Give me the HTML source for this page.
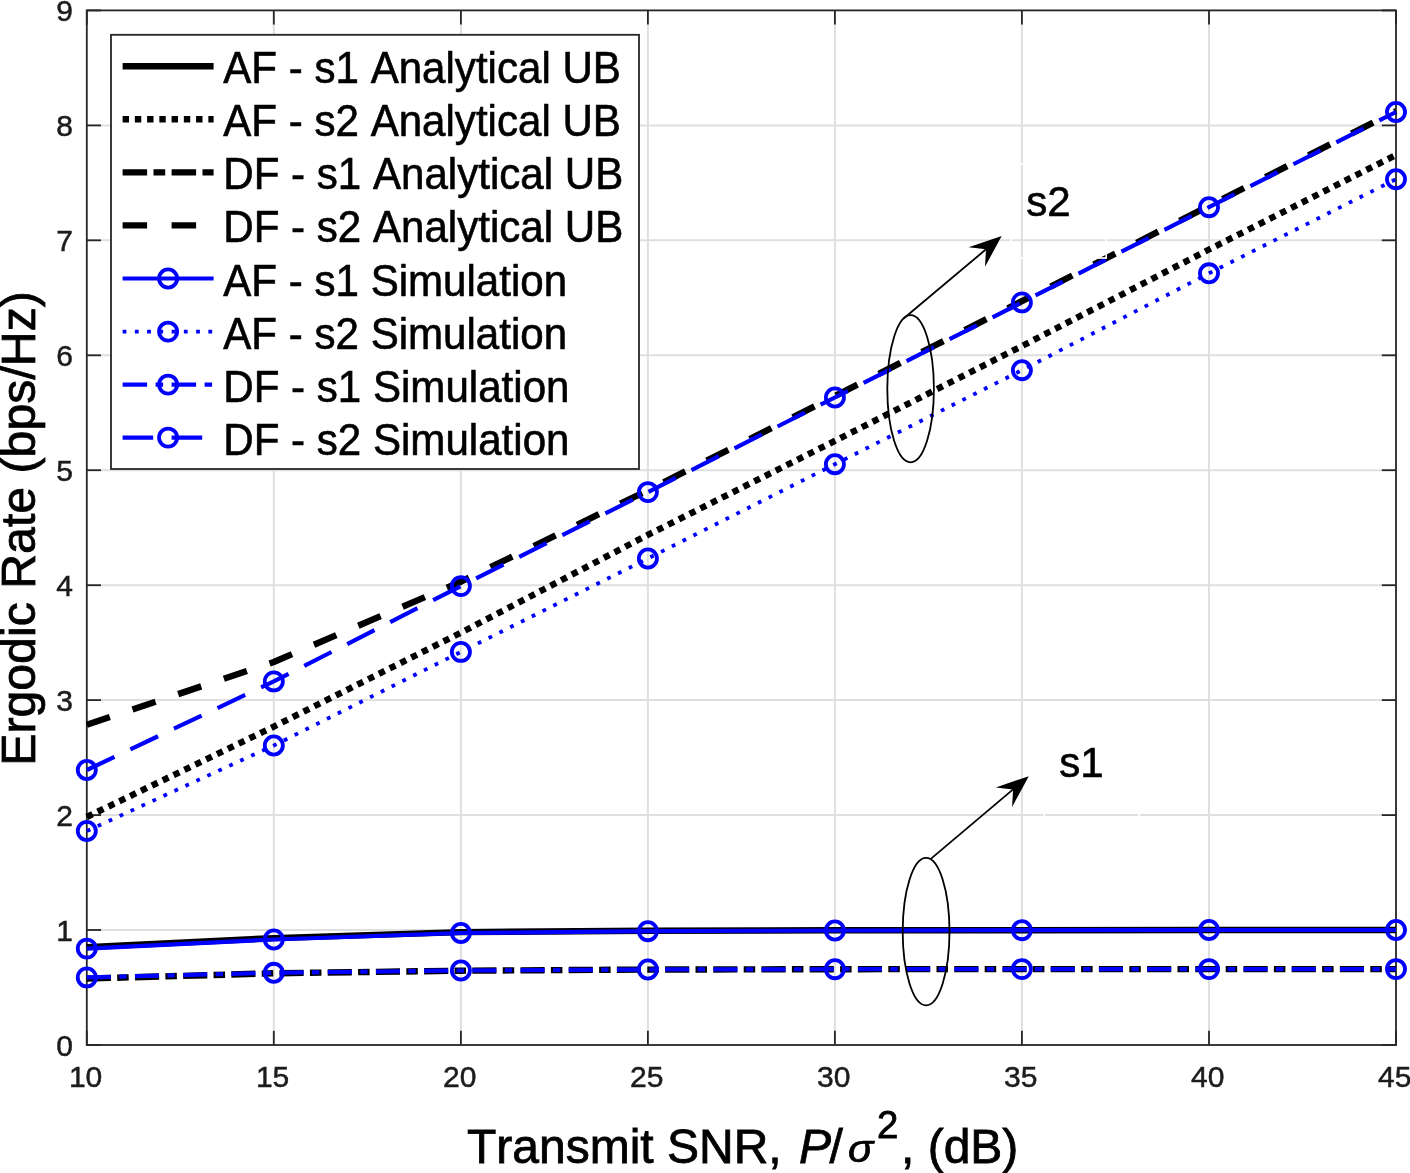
<!DOCTYPE html>
<html><head><meta charset="utf-8"><title>Ergodic Rate vs Transmit SNR</title>
<style>html,body{margin:0;padding:0;background:#fff}body{width:1410px;height:1173px;overflow:hidden}svg{display:block}text{font-family:"Liberation Sans",sans-serif;fill:#000;font-kerning:none}#w{will-change:transform;width:1410px;height:1173px}.tk{font-size:30px;fill:#1c1c1c;stroke:#1c1c1c;stroke-width:0.5px}.lg{font-size:42.1px;stroke:#000;stroke-width:0.6px}.ax{font-size:48px;stroke:#000;stroke-width:0.8px}</style></head><body><div id="w">
<svg width="1410" height="1173" viewBox="0 0 1410 1173">
<rect x="0" y="0" width="1410" height="1173" fill="#fff"/>
<g stroke="#dfdfdf" stroke-width="2" fill="none">
<line x1="273.8" y1="10.4" x2="273.8" y2="1045.0"/>
<line x1="460.9" y1="10.4" x2="460.9" y2="1045.0"/>
<line x1="647.9" y1="10.4" x2="647.9" y2="1045.0"/>
<line x1="834.9" y1="10.4" x2="834.9" y2="1045.0"/>
<line x1="1021.9" y1="10.4" x2="1021.9" y2="1045.0"/>
<line x1="1209.0" y1="10.4" x2="1209.0" y2="1045.0"/>
<line x1="86.8" y1="930.0" x2="1396.0" y2="930.0"/>
<line x1="86.8" y1="815.1" x2="1396.0" y2="815.1"/>
<line x1="86.8" y1="700.1" x2="1396.0" y2="700.1"/>
<line x1="86.8" y1="585.2" x2="1396.0" y2="585.2"/>
<line x1="86.8" y1="470.2" x2="1396.0" y2="470.2"/>
<line x1="86.8" y1="355.3" x2="1396.0" y2="355.3"/>
<line x1="86.8" y1="240.3" x2="1396.0" y2="240.3"/>
<line x1="86.8" y1="125.4" x2="1396.0" y2="125.4"/>
</g>
<g stroke="#262626" stroke-width="1.8" fill="none">
<rect x="86.8" y="10.4" width="1309.2" height="1034.6"/>
<line x1="86.8" y1="1045.0" x2="86.8" y2="1030.8"/>
<line x1="86.8" y1="10.4" x2="86.8" y2="24.6"/>
<line x1="273.8" y1="1045.0" x2="273.8" y2="1030.8"/>
<line x1="273.8" y1="10.4" x2="273.8" y2="24.6"/>
<line x1="460.9" y1="1045.0" x2="460.9" y2="1030.8"/>
<line x1="460.9" y1="10.4" x2="460.9" y2="24.6"/>
<line x1="647.9" y1="1045.0" x2="647.9" y2="1030.8"/>
<line x1="647.9" y1="10.4" x2="647.9" y2="24.6"/>
<line x1="834.9" y1="1045.0" x2="834.9" y2="1030.8"/>
<line x1="834.9" y1="10.4" x2="834.9" y2="24.6"/>
<line x1="1021.9" y1="1045.0" x2="1021.9" y2="1030.8"/>
<line x1="1021.9" y1="10.4" x2="1021.9" y2="24.6"/>
<line x1="1209.0" y1="1045.0" x2="1209.0" y2="1030.8"/>
<line x1="1209.0" y1="10.4" x2="1209.0" y2="24.6"/>
<line x1="1396.0" y1="1045.0" x2="1396.0" y2="1030.8"/>
<line x1="1396.0" y1="10.4" x2="1396.0" y2="24.6"/>
<line x1="86.8" y1="1045.0" x2="101.0" y2="1045.0"/>
<line x1="1396.0" y1="1045.0" x2="1381.8" y2="1045.0"/>
<line x1="86.8" y1="930.0" x2="101.0" y2="930.0"/>
<line x1="1396.0" y1="930.0" x2="1381.8" y2="930.0"/>
<line x1="86.8" y1="815.1" x2="101.0" y2="815.1"/>
<line x1="1396.0" y1="815.1" x2="1381.8" y2="815.1"/>
<line x1="86.8" y1="700.1" x2="101.0" y2="700.1"/>
<line x1="1396.0" y1="700.1" x2="1381.8" y2="700.1"/>
<line x1="86.8" y1="585.2" x2="101.0" y2="585.2"/>
<line x1="1396.0" y1="585.2" x2="1381.8" y2="585.2"/>
<line x1="86.8" y1="470.2" x2="101.0" y2="470.2"/>
<line x1="1396.0" y1="470.2" x2="1381.8" y2="470.2"/>
<line x1="86.8" y1="355.3" x2="101.0" y2="355.3"/>
<line x1="1396.0" y1="355.3" x2="1381.8" y2="355.3"/>
<line x1="86.8" y1="240.3" x2="101.0" y2="240.3"/>
<line x1="1396.0" y1="240.3" x2="1381.8" y2="240.3"/>
<line x1="86.8" y1="125.4" x2="101.0" y2="125.4"/>
<line x1="1396.0" y1="125.4" x2="1381.8" y2="125.4"/>
<line x1="86.8" y1="10.4" x2="101.0" y2="10.4"/>
<line x1="1396.0" y1="10.4" x2="1381.8" y2="10.4"/>
</g>
<g fill="none" stroke="#000" stroke-width="6.4" stroke-linejoin="round">
<polyline points="86.8,947.1 273.8,938.1 460.9,932.1 647.9,930.7 834.9,930.3 1021.9,930.2 1209.0,930.0 1396.0,930.0"/>
<polyline points="86.8,817.0 273.8,726.6 460.9,632.7 647.9,534.9 834.9,440.9 1021.9,346.1 1209.0,249.5 1396.0,155.0" stroke-dasharray="6.4 5.65"/>
<polyline points="86.8,978.6 273.8,973.3 460.9,970.7 647.9,969.6 834.9,969.2 1021.9,969.1 1209.0,969.1 1396.0,969.1" stroke-dasharray="24.1 6.3 11.5 6.3"/>
<polyline points="86.8,724.8 273.8,662.0 460.9,581.7 647.9,490.3 834.9,396.1 1021.9,301.2 1209.0,205.8 1396.0,111.0" stroke-dasharray="24.3 23.9"/>
</g>
<g fill="none" stroke="#0000ff" stroke-width="4.2" stroke-linejoin="round">
<polyline points="86.8,948.6 273.8,939.5 460.9,933.0 647.9,931.2 834.9,930.5 1021.9,930.2 1209.0,930.0 1396.0,930.0"/>
<polyline points="86.8,831.0 273.8,745.5 460.9,651.9 647.9,558.5 834.9,464.2 1021.9,370.2 1209.0,273.3 1396.0,179.2" stroke-width="3.8" stroke-dasharray="3.8 8.25"/>
<polyline points="86.8,977.4 273.8,972.8 460.9,970.5 647.9,969.5 834.9,969.2 1021.9,969.1 1209.0,969.1 1396.0,969.1" stroke-dasharray="24.1 8.35 7.4 8.35"/>
<polyline points="86.8,770.0 273.8,681.4 460.9,586.1 647.9,492.1 834.9,397.5 1021.9,302.4 1209.0,207.2 1396.0,112.0" stroke-dasharray="30.6 17.62"/>
<circle cx="86.8" cy="948.6" r="9.05" stroke-width="3.8"/>
<circle cx="273.8" cy="939.5" r="9.05" stroke-width="3.8"/>
<circle cx="460.9" cy="933.0" r="9.05" stroke-width="3.8"/>
<circle cx="647.9" cy="931.2" r="9.05" stroke-width="3.8"/>
<circle cx="834.9" cy="930.5" r="9.05" stroke-width="3.8"/>
<circle cx="1021.9" cy="930.2" r="9.05" stroke-width="3.8"/>
<circle cx="1209.0" cy="930.0" r="9.05" stroke-width="3.8"/>
<circle cx="1396.0" cy="930.0" r="9.05" stroke-width="3.8"/>
<circle cx="86.8" cy="831.0" r="9.05" stroke-width="3.8"/>
<circle cx="273.8" cy="745.5" r="9.05" stroke-width="3.8"/>
<circle cx="460.9" cy="651.9" r="9.05" stroke-width="3.8"/>
<circle cx="647.9" cy="558.5" r="9.05" stroke-width="3.8"/>
<circle cx="834.9" cy="464.2" r="9.05" stroke-width="3.8"/>
<circle cx="1021.9" cy="370.2" r="9.05" stroke-width="3.8"/>
<circle cx="1209.0" cy="273.3" r="9.05" stroke-width="3.8"/>
<circle cx="1396.0" cy="179.2" r="9.05" stroke-width="3.8"/>
<circle cx="86.8" cy="977.4" r="9.05" stroke-width="3.8"/>
<circle cx="273.8" cy="972.8" r="9.05" stroke-width="3.8"/>
<circle cx="460.9" cy="970.5" r="9.05" stroke-width="3.8"/>
<circle cx="647.9" cy="969.5" r="9.05" stroke-width="3.8"/>
<circle cx="834.9" cy="969.2" r="9.05" stroke-width="3.8"/>
<circle cx="1021.9" cy="969.1" r="9.05" stroke-width="3.8"/>
<circle cx="1209.0" cy="969.1" r="9.05" stroke-width="3.8"/>
<circle cx="1396.0" cy="969.1" r="9.05" stroke-width="3.8"/>
<circle cx="86.8" cy="770.0" r="9.05" stroke-width="3.8"/>
<circle cx="273.8" cy="681.4" r="9.05" stroke-width="3.8"/>
<circle cx="460.9" cy="586.1" r="9.05" stroke-width="3.8"/>
<circle cx="647.9" cy="492.1" r="9.05" stroke-width="3.8"/>
<circle cx="834.9" cy="397.5" r="9.05" stroke-width="3.8"/>
<circle cx="1021.9" cy="302.4" r="9.05" stroke-width="3.8"/>
<circle cx="1209.0" cy="207.2" r="9.05" stroke-width="3.8"/>
<circle cx="1396.0" cy="112.0" r="9.05" stroke-width="3.8"/>
</g>
<text class="tk" transform="translate(85.6,1087.1) scale(1,1.000)" text-anchor="middle">10</text>
<text class="tk" transform="translate(272.6,1087.1) scale(1,1.000)" text-anchor="middle">15</text>
<text class="tk" transform="translate(459.7,1087.1) scale(1,1.000)" text-anchor="middle">20</text>
<text class="tk" transform="translate(646.7,1087.1) scale(1,1.000)" text-anchor="middle">25</text>
<text class="tk" transform="translate(833.7,1087.1) scale(1,1.000)" text-anchor="middle">30</text>
<text class="tk" transform="translate(1020.7,1087.1) scale(1,1.000)" text-anchor="middle">35</text>
<text class="tk" transform="translate(1207.8,1087.1) scale(1,1.000)" text-anchor="middle">40</text>
<text class="tk" transform="translate(1394.8,1087.1) scale(1,1.000)" text-anchor="middle">45</text>
<text class="tk" transform="translate(73.0,1055.8) scale(1,1.000)" text-anchor="end">0</text>
<text class="tk" transform="translate(73.0,940.9) scale(1,1.000)" text-anchor="end">1</text>
<text class="tk" transform="translate(73.0,825.9) scale(1,1.000)" text-anchor="end">2</text>
<text class="tk" transform="translate(73.0,711.0) scale(1,1.000)" text-anchor="end">3</text>
<text class="tk" transform="translate(73.0,596.0) scale(1,1.000)" text-anchor="end">4</text>
<text class="tk" transform="translate(73.0,481.1) scale(1,1.000)" text-anchor="end">5</text>
<text class="tk" transform="translate(73.0,366.1) scale(1,1.000)" text-anchor="end">6</text>
<text class="tk" transform="translate(73.0,251.2) scale(1,1.000)" text-anchor="end">7</text>
<text class="tk" transform="translate(73.0,136.2) scale(1,1.000)" text-anchor="end">8</text>
<text class="tk" transform="translate(73.0,21.3) scale(1,1.000)" text-anchor="end">9</text>
<text class="ax" transform="translate(35.3,765.8) rotate(-90) scale(1,1.0)" style="font-size:48.25px">Ergodic Rate (bps/Hz)</text>
<text class="ax" transform="translate(467.0,1162.5) scale(1,1.000)" text-anchor="start">Transmit SNR,</text>
<text class="ax" transform="translate(799.0,1162.5) scale(1,1.000)" text-anchor="start" font-style="italic">P</text>
<text class="ax" transform="translate(829.6,1162.5) scale(1,1.000)" text-anchor="start">/</text>
<text class="ax" transform="translate(848.0,1162.3) scale(1,0.910)" text-anchor="start" font-style="italic" style="font-size:42px">σ</text>
<text class="ax" transform="translate(877.0,1138.2) scale(1,1.000)" text-anchor="start" style="font-size:38.4px">2</text>
<text class="ax" transform="translate(901.0,1162.5) scale(1,1.000)" text-anchor="start">, (dB)</text>
<g stroke="#000" stroke-width="1.8" fill="none">
<ellipse cx="910.6" cy="388.7" rx="23.3" ry="73.6"/>
<ellipse cx="926.1" cy="931.6" rx="23.4" ry="73.7"/>
</g>
<g stroke="#fff" stroke-width="1.7" fill="none"><rect x="1011.1" y="163.7" width="95.1" height="94.3"/><rect x="1044.4" y="724.5" width="94.7" height="94.3"/></g>
<line x1="903.3" y1="318.7" x2="986.0" y2="249.3" stroke="#000" stroke-width="1.8"/>
<polygon points="1001.7,236.1 985.0,266.7 986.0,249.3 968.6,247.3" fill="#000"/>
<line x1="930.5" y1="859.1" x2="1013.1" y2="789.4" stroke="#000" stroke-width="1.8"/>
<polygon points="1028.8,776.2 1012.1,806.9 1013.1,789.4 995.8,787.4" fill="#000"/>
<text class="lg" transform="translate(1026.3,216.2) scale(1,1.000)" text-anchor="start">s2</text>
<text class="lg" transform="translate(1059.3,777.0) scale(1,1.000)" text-anchor="start">s1</text>
<rect x="111.0" y="34.8" width="528.0" height="434.2" fill="#fff" stroke="#262626" stroke-width="1.8"/>
<g fill="none" stroke="#000" stroke-width="6.4">
<line x1="122.6" y1="66.3" x2="213.6" y2="66.3"/>
<line x1="122.6" y1="119.3" x2="213.6" y2="119.3" stroke-dasharray="6.4 5.85"/>
<line x1="122.6" y1="172.4" x2="213.6" y2="172.4" stroke-dasharray="24.5 6.4 11.7 6.4"/>
<line x1="122.6" y1="225.4" x2="213.6" y2="225.4" stroke-dasharray="24.5 24.5"/>
</g>
<g fill="none" stroke="#0000ff" stroke-width="4.2">
<line x1="122.6" y1="278.5" x2="213.6" y2="278.5"/>
<line x1="122.6" y1="331.6" x2="213.6" y2="331.6" stroke-width="3.8" stroke-dasharray="3.8 8.45"/>
<line x1="122.6" y1="384.6" x2="213.6" y2="384.6" stroke-dasharray="24.5 8.5 7.5 8.5"/>
<line x1="122.6" y1="437.6" x2="213.6" y2="437.6" stroke-dasharray="30.6 18.4"/>
<circle cx="168.1" cy="278.5" r="9.05" stroke-width="3.8"/>
<circle cx="168.1" cy="331.6" r="9.05" stroke-width="3.8"/>
<circle cx="168.1" cy="384.6" r="9.05" stroke-width="3.8"/>
<circle cx="168.1" cy="437.6" r="9.05" stroke-width="3.8"/>
</g>
<text class="lg" transform="translate(223.3,83.3) scale(1,1.040)" text-anchor="start">AF - s1 Analytical UB</text>
<text class="lg" transform="translate(223.3,136.3) scale(1,1.040)" text-anchor="start">AF - s2 Analytical UB</text>
<text class="lg" transform="translate(223.3,189.4) scale(1,1.040)" text-anchor="start">DF - s1 Analytical UB</text>
<text class="lg" transform="translate(223.3,242.4) scale(1,1.040)" text-anchor="start">DF - s2 Analytical UB</text>
<text class="lg" transform="translate(223.3,295.5) scale(1,1.040)" text-anchor="start">AF - s1 Simulation</text>
<text class="lg" transform="translate(223.3,348.6) scale(1,1.040)" text-anchor="start">AF - s2 Simulation</text>
<text class="lg" transform="translate(223.3,401.6) scale(1,1.040)" text-anchor="start">DF - s1 Simulation</text>
<text class="lg" transform="translate(223.3,454.6) scale(1,1.040)" text-anchor="start">DF - s2 Simulation</text>
</svg></div></body></html>
